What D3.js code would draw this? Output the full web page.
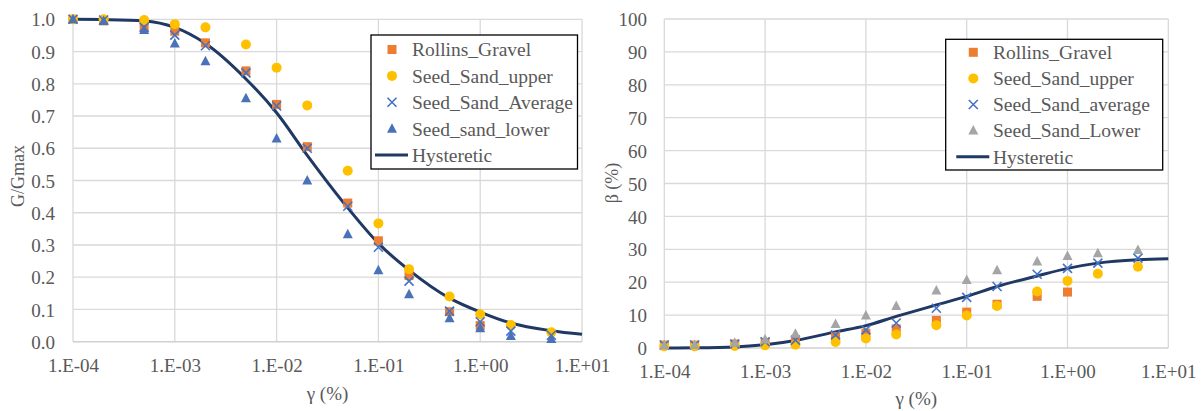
<!DOCTYPE html>
<html><head><meta charset="utf-8">
<script src="https://cdn.jsdelivr.net/npm/d3@7"></script>
<style>body{margin:0;background:#fff}svg{display:block}
svg text{font-family:"Liberation Serif","Times New Roman",serif}</style>
</head><body>
<svg id="c" width="1203" height="411"></svg>
<script>
// ---- data ----
const strain = [1e-4, 2e-4, 5e-4, 1e-3, 2e-3, 5e-3, 1e-2, 2e-2, 5e-2, 0.1, 0.2, 0.5, 1, 2, 5];
const xTicks = [1e-4, 1e-3, 1e-2, 1e-1, 1, 10];
const xTickLabels = ["1.E-04", "1.E-03", "1.E-02", "1.E-01", "1.E+00", "1.E+01"];
const curveStrain = [1e-4, 2e-4, 5e-4, 1e-3, 2e-3, 5e-3, 1e-2, 2e-2, 5e-2, 0.1, 0.2, 0.5, 1, 2, 5, 10];

// G/Gmax
const gRollins = [1.0, 0.995, 0.978, 0.963, 0.927, 0.840, 0.736, 0.605, 0.430, 0.313, 0.205, 0.093, 0.050];
const gUpper   = [1.0, 1.0, 0.998, 0.985, 0.975, 0.922, 0.850, 0.733, 0.530, 0.367, 0.225, 0.140, 0.085, 0.052, 0.029];
const gAverage = [1.0, 0.998, 0.975, 0.951, 0.918, 0.834, 0.731, 0.600, 0.420, 0.293, 0.188, 0.095, 0.062, 0.033, 0.020];
const gLower   = [1.0, 0.995, 0.967, 0.925, 0.870, 0.755, 0.630, 0.500, 0.333, 0.222, 0.147, 0.073, 0.042, 0.018, 0.008];
const gHyst    = [1.0, 0.999, 0.995, 0.975, 0.925, 0.815, 0.710, 0.578, 0.415, 0.305, 0.222, 0.135, 0.092, 0.058, 0.034, 0.023];
const gTicks = [0,0.1,0.2,0.3,0.4,0.5,0.6,0.7,0.8,0.9,1.0];

// damping beta (%)
const bRollins = [0.9, 0.9, 1.2, 1.7, 2.2, 3.5, 4.5, 5.8, 8.4, 10.9, 13.3, 15.7, 17.0];
const bUpper   = [0.5, 0.5, 0.6, 0.8, 1.0, 1.8, 2.9, 4.1, 6.9, 9.9, 12.8, 17.2, 20.4, 22.6, 24.7];
const bAverage = [0.9, 0.9, 1.2, 1.9, 2.4, 4.0, 5.5, 7.6, 12.1, 15.4, 18.7, 22.4, 24.2, 25.8, 27.3];
const bLower   = [0.8, 0.9, 1.6, 2.6, 4.3, 7.3, 9.9, 12.8, 17.5, 20.7, 23.6, 26.3, 28.0, 28.8, 29.8];
const bHyst    = [0.0, 0.05, 0.3, 1.0, 2.3, 4.9, 6.8, 9.6, 13.1, 15.7, 18.7, 21.9, 24.2, 25.8, 26.8, 27.1];
const bTicks = [0,10,20,30,40,50,60,70,80,90,100];

const leftNames  = ["Rollins_Gravel", "Seed_Sand_upper", "Seed_Sand_Average", "Seed_sand_lower", "Hysteretic"];
const rightNames = ["Rollins_Gravel", "Seed_Sand_upper", "Seed_Sand_average", "Seed_Sand_Lower", "Hysteretic"];

// ---- styles ----
const C = {orange:"#ED7D31", yellow:"#FFC000", blue:"#4472C4", triBlue:"#4A72B8", gray:"#A5A5A5", navy:"#1F3864", grid:"#D9D9D9", text:"#595959"};
const svg = d3.select("#c");

function marker(g, type, x, y, color){
  if(type==="square"){
    g.append("rect").attr("x",x-4.5).attr("y",y-4.5).attr("width",9).attr("height",9).attr("fill",color);
  } else if(type==="circle"){
    g.append("circle").attr("cx",x).attr("cy",y).attr("r",5).attr("fill",color);
  } else if(type==="x"){
    g.append("path").attr("d",`M${x-4.5},${y-4.5}L${x+4.5},${y+4.5}M${x-4.5},${y+4.5}L${x+4.5},${y-4.5}`)
      .attr("stroke",color).attr("stroke-width",1.6).attr("fill","none");
  } else if(type==="tri"){
    g.append("path").attr("d",`M${x},${y-5.5}L${x+5},${y+4}L${x-5},${y+4}Z`).attr("fill",color);
  }
}

function styleText(sel, size){
  sel.attr("font-family","Liberation Serif").style("font-size",size+"px").attr("fill",C.text);
}

function chart(o){
  const x = d3.scaleLog().domain([1e-4,10]).range([o.x0,o.x1]);
  const y = d3.scaleLinear().domain([0,o.ymax]).range([o.y0,o.y1]);
  const g = svg.append("g");
  g.selectAll(".hg").data(o.yTicks.slice(1)).join("line")
    .attr("x1",o.x0).attr("x2",o.x1).attr("y1",d=>y(d)).attr("y2",d=>y(d))
    .attr("stroke",C.grid).attr("stroke-width",1.3);
  g.selectAll(".vg").data(xTicks).join("line")
    .attr("x1",d=>x(d)).attr("x2",d=>x(d)).attr("y1",o.y0).attr("y2",o.y1)
    .attr("stroke",C.grid).attr("stroke-width",1.3);
  g.append("line").attr("x1",o.x0).attr("x2",o.x1).attr("y1",o.y0).attr("y2",o.y0)
    .attr("stroke","#D0D0D0").attr("stroke-width",1.5);
  const xa = d3.axisBottom(x).tickValues(xTicks).tickFormat((d,i)=>xTickLabels[i]).tickSize(0).tickPadding(0);
  const xg = g.append("g").attr("transform",`translate(0,${o.xLabY})`).call(xa);
  xg.select(".domain").remove();
  xg.attr("font-family",null).attr("font-size",null);
  styleText(xg.selectAll("text").attr("dy","0.35em"), 19);
  const ya = d3.axisLeft(y).tickValues(o.yTicks).tickFormat(o.yFmt).tickSize(0).tickPadding(0);
  const yg = g.append("g").attr("transform",`translate(${o.yLabX},0)`).call(ya);
  yg.select(".domain").remove();
  yg.attr("font-family",null).attr("font-size",null);
  styleText(yg.selectAll("text").attr("dy","0.35em"), 19);
  styleText(g.append("text").attr("x",(o.x0+o.x1)/2).attr("y",o.xTitleY).attr("text-anchor","middle").attr("dy","0.35em")
    .text("γ (%)"), 19);
  styleText(g.append("text").attr("transform",`translate(${o.yTitleX},${o.yTitleY}) rotate(-90)`).attr("text-anchor","middle").attr("dy","0.35em")
    .text(o.yTitle), 18);
  const line = d3.line().x(d=>x(d[0])).y(d=>y(d[1])).curve(d3.curveMonotoneX);
  g.append("path").datum(curveStrain.map((s,i)=>[s,o.hyst[i]])).attr("d",line)
    .attr("fill","none").attr("stroke",C.navy).attr("stroke-width",3);
  o.series.forEach(s=>{
    s.values.forEach((v,i)=>marker(g,s.type,x(strain[i]),y(v),s.color));
  });
  const L = o.legend;
  g.append("rect").attr("x",L.x).attr("y",L.y).attr("width",L.w).attr("height",L.h)
    .attr("fill","#fff").attr("stroke","#000").attr("stroke-width",1.3);
  o.names.forEach((n,i)=>{
    const yy = L.y + L.first + i*L.step;
    if(i<4){ marker(g,o.series[i].type,L.mx,yy,o.series[i].color); }
    else { g.append("line").attr("x1",L.mx-17).attr("x2",L.mx+16).attr("y1",yy).attr("y2",yy).attr("stroke",C.navy).attr("stroke-width",3); }
    styleText(g.append("text").attr("x",L.tx).attr("y",yy).attr("dy","0.35em").text(n), 19.5);
  });
}

chart({x0:73,x1:582,y0:341.7,y1:19.3,ymax:1.0,yTicks:gTicks,yFmt:d3.format(".1f"),
  xLabY:365,yLabX:55,xTitleY:393,yTitleX:18,yTitleY:176,yTitle:"G/Gmax",hyst:gHyst,
  series:[{type:"square",color:C.orange,values:gRollins},{type:"circle",color:C.yellow,values:gUpper},
          {type:"x",color:C.blue,values:gAverage},{type:"tri",color:C.triBlue,values:gLower}],
  names:leftNames,legend:{x:371,y:35,w:206.5,h:134,first:14.5,step:26.4,mx:392,tx:412}});

chart({x0:664.3,x1:1168.3,y0:348,y1:19,ymax:100,yTicks:bTicks,yFmt:d3.format("d"),
  xLabY:371.5,yLabX:647,xTitleY:398,yTitleX:612,yTitleY:183,yTitle:"β (%)",hyst:bHyst,
  series:[{type:"square",color:C.orange,values:bRollins},{type:"circle",color:C.yellow,values:bUpper},
          {type:"x",color:C.blue,values:bAverage},{type:"tri",color:C.gray,values:bLower}],
  names:rightNames,legend:{x:945.7,y:39.3,w:217,h:130.7,first:13,step:26.1,mx:973.3,tx:993}});
</script>
</body></html>
